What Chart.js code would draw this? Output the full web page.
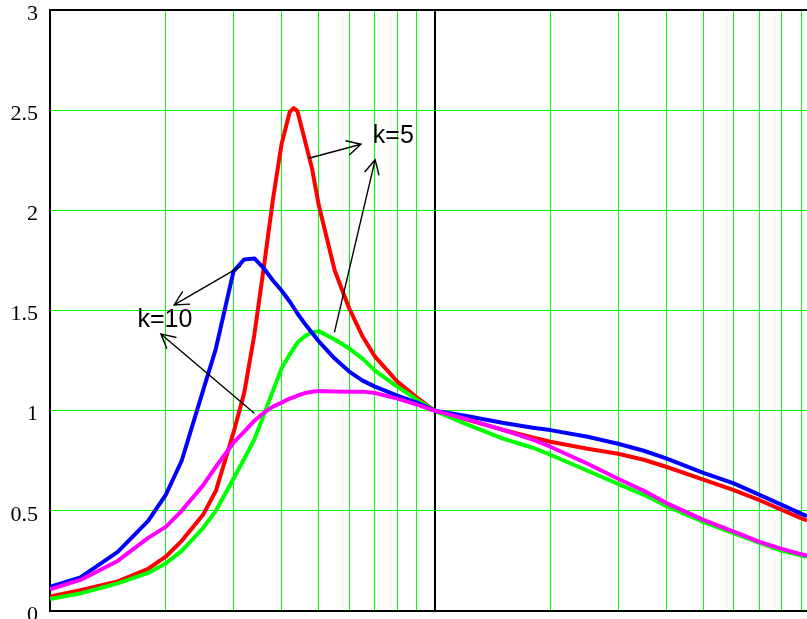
<!DOCTYPE html>
<html><head><meta charset="utf-8">
<script src="https://cdn.jsdelivr.net/npm/chart.js@4.4.1/dist/chart.umd.min.js"></script>
<style>html,body{margin:0;padding:0;background:#fff;overflow:hidden}canvas{display:block}</style>
</head><body>
<canvas id="c" width="807" height="619"></canvas>
<script>
const xValues = [0.1,0.12,0.15,0.18,0.2,0.22,0.25,0.27,0.3,0.32,0.34,0.36,0.38,0.4,0.42,0.43,0.44,0.46,0.48,0.5,0.55,0.6,0.65,0.7,0.8,0.9,1,1.2,1.5,1.8,2,2.5,3,3.5,4,5,6,7,8,9,9.3];
const redK5 = [0.072,0.104,0.148,0.211,0.271,0.35,0.48,0.60,0.89,1.09,1.38,1.72,2.055,2.33,2.49,2.51,2.495,2.35,2.21,2.025,1.70,1.51,1.37,1.27,1.145,1.065,1.0,0.958,0.905,0.866,0.845,0.81,0.785,0.755,0.72,0.656,0.603,0.553,0.505,0.462,0.452];
const greenK5 = [0.06,0.088,0.138,0.19,0.238,0.30,0.414,0.50,0.66,0.76,0.857,0.98,1.10,1.21,1.28,1.31,1.34,1.372,1.39,1.397,1.355,1.31,1.26,1.20,1.12,1.055,1.0,0.935,0.862,0.815,0.78,0.70,0.635,0.58,0.525,0.445,0.387,0.34,0.30,0.277,0.27];
const blueK10 = [0.12,0.168,0.295,0.45,0.58,0.75,1.10,1.31,1.695,1.755,1.76,1.71,1.65,1.60,1.545,1.515,1.485,1.434,1.389,1.346,1.26,1.195,1.15,1.12,1.075,1.04,1.0,0.975,0.94,0.915,0.903,0.87,0.835,0.80,0.762,0.69,0.637,0.58,0.53,0.485,0.474];
const magentaK10 = [0.108,0.155,0.25,0.365,0.42,0.50,0.627,0.72,0.84,0.895,0.95,0.99,1.02,1.04,1.06,1.067,1.075,1.088,1.094,1.098,1.096,1.095,1.095,1.088,1.06,1.03,1.0,0.96,0.905,0.855,0.82,0.735,0.66,0.60,0.54,0.455,0.396,0.345,0.31,0.283,0.277];
const yTicks = [0,0.5,1,1.5,2,2.5,3];
const xGrid = [0.1,0.2,0.3,0.4,0.5,0.6,0.7,0.8,0.9,1,2,3,4,5,6,7,8,9];
const xMin = 0.1, xMax = 9.3, yMin = 0, yMax = 3;
const noteLabels = [
  {text:'k=5', x:0.691, y:2.335},
  {text:'k=10', x:0.1688, y:1.416}
];
const noteArrows = [
  {from:[0.4708,2.260], to:[0.644,2.330]},
  {from:[0.549,1.391], to:[0.7006,2.252]},
  {from:[0.3138,1.722], to:[0.2103,1.528]},
  {from:[0.3398,0.987], to:[0.1942,1.383]}
];

const pts = arr => xValues.map((x,i)=>({x:x, y:arr[i]}));
const ds = (data,color) => ({data:pts(data), borderColor:color, backgroundColor:color, borderWidth:4, pointRadius:0, tension:0, fill:false, borderJoinStyle:'round'});

const notes = {
  id:'notes',
  afterDatasetsDraw(chart){
    const c = chart.ctx, sx = chart.scales.x, sy = chart.scales.y;
    c.save();
    c.strokeStyle = '#000'; c.fillStyle = '#000'; c.lineWidth = 1.4;
    noteArrows.forEach(a=>{
      const x1 = sx.getPixelForValue(a.from[0]), y1 = sy.getPixelForValue(a.from[1]);
      const x2 = sx.getPixelForValue(a.to[0]), y2 = sy.getPixelForValue(a.to[1]);
      const ang = Math.atan2(y1-y2, x1-x2), L = 16, sp = 0.48;
      c.beginPath(); c.moveTo(x1,y1); c.lineTo(x2,y2);
      c.moveTo(x2+L*Math.cos(ang+sp), y2+L*Math.sin(ang+sp)); c.lineTo(x2,y2);
      c.lineTo(x2+L*Math.cos(ang-sp), y2+L*Math.sin(ang-sp));
      c.stroke();
    });
    c.font = '25px "Liberation Sans", Arial, sans-serif';
    c.textBaseline = 'alphabetic'; c.textAlign = 'left';
    noteLabels.forEach(l=>{
      c.fillText(l.text, sx.getPixelForValue(l.x), sy.getPixelForValue(l.y));
    });
    c.restore();
  }
};

new Chart(document.getElementById('c'), {
  type:'line',
  data:{datasets:[ds(magentaK10,'#ff00ff'), ds(blueK10,'#0000ff'), ds(greenK5,'#00ff00'), ds(redK5,'#ff0000')]},
  options:{
    responsive:false, animation:false,
    layout:{padding:{top:10,bottom:8,left:0,right:0}},
    plugins:{legend:{display:false}, tooltip:{enabled:false}},
    scales:{
      x:{type:'logarithmic', min:xMin, max:xMax,
        afterBuildTicks:s=>{s.ticks = xGrid.map(v=>({value:v}));},
        afterFit:s=>{s.paddingLeft=0; s.paddingRight=0; s.height=0;},
        ticks:{display:false},
        grid:{drawTicks:false, color:c=>(c.tick && c.tick.value===1)?'#000':'#00ff00', lineWidth:c=>(c.tick && c.tick.value===1)?2:1},
        border:{display:true, color:'#000', width:2}
      },
      y:{min:yMin, max:yMax,
        afterBuildTicks:s=>{s.ticks = yTicks.map(v=>({value:v}));},
        afterFit:s=>{s.width=50; s.paddingTop=0; s.paddingBottom=0;},
        ticks:{padding:12, labelOffset:4, color:'#000', font:{family:'"Liberation Serif", "Times New Roman", serif', size:22}, callback:v=>String(v)},
        grid:{drawTicks:false, color:c=>(c.tick && (c.tick.value===3||c.tick.value===0))?'#000':'#00ff00', lineWidth:c=>(c.tick && c.tick.value===3)?2:1},
        border:{display:true, color:'#000', width:2}
      }
    }
  },
  plugins:[notes]
});
</script>
</body></html>
